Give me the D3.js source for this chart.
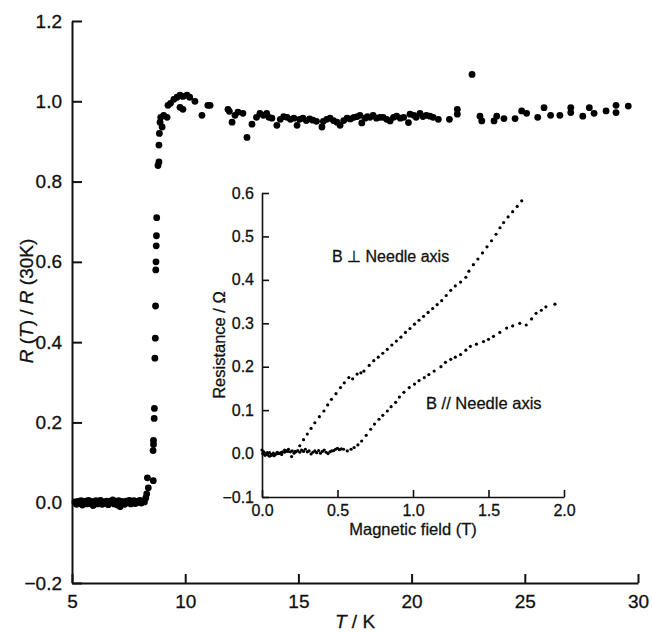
<!DOCTYPE html>
<html>
<head>
<meta charset="utf-8">
<script src="https://cdn.jsdelivr.net/npm/d3@7"></script>
<style>
body { margin: 0; background: #fff; }
text { font-family: "Liberation Sans", Arial, sans-serif; fill: #111; stroke: #111; stroke-width: 0.3px; }
</style>
</head>
<body>
<script>
// main plot: R(T)/R(30K) against T
var mainData = [
    [5.13, 0.002], [5.2, -0.004], [5.26, 0.003], [5.33, -0.002], [5.4, 0.005],
    [5.46, -0.006], [5.53, 0.001], [5.6, 0.004], [5.66, -0.003], [5.73, 0.006],
    [5.8, -0.002], [5.86, 0.003], [5.93, -0.007], [6.0, 0.002], [6.06, 0.005],
    [6.13, -0.003], [6.2, 0.001], [6.26, 0.006], [6.33, -0.004], [6.4, 0.002],
    [6.46, -0.001], [6.53, 0.004], [6.6, -0.005], [6.66, 0.003], [6.73, 0.0],
    [6.8, 0.007], [6.86, -0.003], [6.93, 0.002], [7.0, -0.006], [7.06, 0.005],
    [7.13, -0.01], [7.2, 0.003], [7.26, 0.001], [7.33, -0.004], [7.4, 0.004],
    [7.46, 0.0], [7.53, 0.006], [7.6, -0.003], [7.66, 0.002], [7.73, 0.005],
    [7.8, -0.002], [7.86, 0.003], [7.93, 0.001], [8.0, 0.006], [8.06, -0.001],
    [8.13, 0.004], [8.2, 0.002], [8.26, 0.012], [8.3, 0.022],
    [8.33, 0.062], [8.37, 0.037], [8.59, 0.055], [8.58, 0.13], [8.6, 0.145],
    [8.6, 0.155], [8.63, 0.21], [8.64, 0.235], [8.66, 0.36], [8.68, 0.41],
    [8.69, 0.49], [8.7, 0.58], [8.71, 0.6], [8.72, 0.64], [8.73, 0.665],
    [8.74, 0.71], [8.8, 0.84], [8.84, 0.849], [8.84, 0.891], [8.86, 0.92],
    [8.89, 0.948], [8.92, 0.96], [8.98, 0.936], [9.05, 0.965], [9.2, 0.96],
    [9.24, 0.99], [9.35, 0.995], [9.5, 1.005], [9.64, 1.01], [9.77, 1.015],
    [9.9, 1.012], [10.08, 1.015], [10.2, 1.01], [10.43, 1.0], [9.77, 0.985],
    [9.9, 0.98], [10.74, 0.965], [11.0, 0.99], [11.1, 0.99], [11.89, 0.98],
    [11.95, 0.975], [12.07, 0.948], [12.2, 0.965], [12.33, 0.973], [12.55, 0.97],
    [12.73, 0.91], [12.95, 0.943], [13.15, 0.96], [13.3, 0.97], [13.45, 0.965],
    [13.6, 0.97], [13.7, 0.96], [13.83, 0.958], [14.05, 0.94], [14.2, 0.955],
    [14.35, 0.962], [14.5, 0.96], [14.65, 0.955], [14.8, 0.958], [14.94, 0.94],
    [15.05, 0.955], [15.2, 0.958], [15.35, 0.952], [15.5, 0.956], [15.64, 0.953],
    [15.8, 0.95], [16.04, 0.936], [16.1, 0.95], [16.25, 0.955], [16.4, 0.958],
    [16.55, 0.952], [16.7, 0.948], [16.84, 0.94], [17.0, 0.952], [17.15, 0.958],
    [17.3, 0.956], [17.45, 0.96], [17.6, 0.962], [17.72, 0.965], [17.8, 0.946],
    [17.95, 0.958], [18.05, 0.962], [18.16, 0.96], [18.3, 0.965], [18.45, 0.958],
    [18.6, 0.96], [18.74, 0.96], [18.9, 0.955], [19.05, 0.951], [19.2, 0.96],
    [19.34, 0.963], [19.5, 0.958], [19.65, 0.96], [19.86, 0.947], [19.93, 0.968],
    [20.1, 0.965], [20.2, 0.96], [20.37, 0.97], [20.5, 0.962], [20.65, 0.965],
    [20.81, 0.963], [20.95, 0.96], [21.18, 0.955], [21.67, 0.955], [22.02, 0.968],
    [22.02, 0.98], [22.67, 1.067], [23.02, 0.963], [23.1, 0.951], [23.64, 0.951],
    [23.76, 0.963], [24.08, 0.957], [24.57, 0.957], [24.86, 0.976], [25.08, 0.97],
    [25.57, 0.96], [25.85, 0.984], [26.14, 0.965], [26.55, 0.965], [27.03, 0.984],
    [27.03, 0.972], [27.56, 0.963], [27.85, 0.984], [28.06, 0.97], [28.59, 0.976],
    [29.03, 0.99], [29.03, 0.972], [29.57, 0.988]
];

// inset: resistance (ohm) against magnetic field (T)
var perpData = [
    [0.005, 0.0], [0.02, -0.004], [0.035, 0.002], [0.05, -0.006], [0.065, -0.002],
    [0.08, -0.005], [0.095, -0.001], [0.11, 0.001], [0.13, -0.002], [0.15, 0.003],
    [0.17, 0.005], [0.196, -0.007], [0.22, 0.005], [0.25, 0.018], [0.275, 0.032],
    [0.3, 0.045], [0.325, 0.058], [0.35, 0.071], [0.38, 0.085], [0.41, 0.098],
    [0.435, 0.112], [0.46, 0.125], [0.49, 0.138], [0.52, 0.152], [0.545, 0.163],
    [0.575, 0.175], [0.6, 0.172], [0.63, 0.183], [0.655, 0.186], [0.675, 0.19],
    [0.71, 0.203], [0.74, 0.214], [0.77, 0.222], [0.8, 0.231], [0.83, 0.24],
    [0.86, 0.25], [0.89, 0.259], [0.92, 0.268], [0.95, 0.279], [0.98, 0.288],
    [1.01, 0.298], [1.04, 0.307], [1.07, 0.316], [1.1, 0.325], [1.13, 0.334],
    [1.16, 0.343], [1.19, 0.352], [1.22, 0.364], [1.25, 0.376], [1.28, 0.386],
    [1.315, 0.395], [1.35, 0.406], [1.37, 0.42], [1.4, 0.435], [1.43, 0.448],
    [1.46, 0.462], [1.49, 0.476], [1.52, 0.49], [1.55, 0.505], [1.576, 0.52],
    [1.6, 0.532], [1.63, 0.545], [1.66, 0.557], [1.69, 0.569], [1.72, 0.582]
];

var parData = [
    [0.0, 0.008], [0.012, 0.004], [0.025, 0.0], [0.037, -0.003], [0.05, 0.002],
    [0.062, -0.004], [0.075, 0.001], [0.087, -0.002], [0.1, 0.003], [0.112, 0.0],
    [0.125, 0.002], [0.137, 0.004], [0.15, 0.008], [0.162, 0.006], [0.175, 0.01],
    [0.187, 0.004], [0.2, 0.006], [0.212, 0.001], [0.225, 0.004], [0.237, 0.007],
    [0.25, 0.003], [0.262, 0.008], [0.275, 0.005], [0.287, 0.01], [0.3, 0.004],
    [0.312, 0.006], [0.325, -0.001], [0.337, 0.003], [0.35, 0.006], [0.362, 0.002],
    [0.375, 0.007], [0.387, 0.001], [0.4, 0.005], [0.412, 0.008], [0.425, 0.003],
    [0.437, 0.0], [0.45, 0.004], [0.462, 0.006], [0.475, 0.007], [0.487, 0.01],
    [0.5, 0.012], [0.512, 0.009], [0.525, 0.011], [0.54, 0.01], [0.565, 0.006],
    [0.59, 0.01], [0.61, 0.014], [0.635, 0.02], [0.66, 0.029], [0.69, 0.042],
    [0.72, 0.056], [0.745, 0.068], [0.775, 0.079], [0.8, 0.088], [0.83, 0.098],
    [0.855, 0.108], [0.885, 0.118], [0.91, 0.13], [0.94, 0.141], [0.975, 0.152],
    [1.01, 0.16], [1.04, 0.168], [1.075, 0.175], [1.105, 0.182], [1.14, 0.19],
    [1.185, 0.2], [1.215, 0.21], [1.25, 0.217], [1.28, 0.222], [1.315, 0.228],
    [1.35, 0.238], [1.38, 0.247], [1.42, 0.252], [1.467, 0.258], [1.5, 0.263],
    [1.533, 0.27], [1.575, 0.279], [1.62, 0.289], [1.66, 0.294], [1.707, 0.3],
    [1.75, 0.296], [1.785, 0.31], [1.815, 0.323], [1.85, 0.33], [1.88, 0.338],
    [1.94, 0.344]
];

var xTicks = [5, 10, 15, 20, 25, 30];
var yTicks = [-0.2, 0.0, 0.2, 0.4, 0.6, 0.8, 1.0, 1.2];
var insetXTicks = [0.0, 0.5, 1.0, 1.5, 2.0];
var insetYTicks = [-0.1, 0.0, 0.1, 0.2, 0.3, 0.4, 0.5, 0.6];

var width = 652,
    height = 632;

var svg = d3.select("body").append("svg")
    .attr("width", width)
    .attr("height", height);

// main scales
var x = d3.scaleLinear().domain([5, 30]).range([72, 638]);
var y = d3.scaleLinear().domain([-0.2, 1.2]).range([583, 21]);

// inset scales
var xi = d3.scaleLinear().domain([0, 2]).range([262, 564]);
var yi = d3.scaleLinear().domain([-0.1, 0.6]).range([497, 193]);

// ticks point inwards, no outer ticks
var xAxis = d3.axisBottom(x).tickValues(xTicks)
    .tickSizeInner(-9).tickSizeOuter(0).tickPadding(12)
    .tickFormat(d3.format("d"));
var yAxis = d3.axisLeft(y).tickValues(yTicks)
    .tickSizeInner(-10).tickSizeOuter(0).tickPadding(10)
    .tickFormat(d3.format(".1f"));

var gx = svg.append("g")
    .attr("transform", "translate(0," + y(-0.2) + ")")
    .call(xAxis);
var gy = svg.append("g")
    .attr("transform", "translate(" + x(5) + ",0)")
    .call(yAxis);

[gx, gy].forEach(function(g) {
    g.select(".domain").attr("stroke", "#111").attr("stroke-width", 2);
    g.selectAll(".tick line").attr("stroke", "#111").attr("stroke-width", 2);
    g.selectAll(".tick text")
        .attr("font-family", "'Liberation Sans', Arial, sans-serif")
        .attr("font-size", 19)
        .attr("fill", "#111");
});

// main data points
svg.append("g").selectAll("circle")
    .data(mainData)
    .enter()
    .append("circle")
    .attr("cx", function(d) { return x(d[0]); })
    .attr("cy", function(d) { return y(d[1]); })
    .attr("r", 3.4)
    .attr("fill", "#000");

// axis titles
var xt = svg.append("text")
    .attr("x", (x(5) + x(30)) / 2)
    .attr("y", 628)
    .attr("text-anchor", "middle")
    .attr("font-size", 19);
xt.append("tspan").attr("font-style", "italic").text("T");
xt.append("tspan").text(" / K");

var yt = svg.append("text")
    .attr("transform", "translate(33,301) rotate(-90)")
    .attr("text-anchor", "middle")
    .attr("font-size", 19);
yt.append("tspan").attr("font-style", "italic").text("R");
yt.append("tspan").text(" (");
yt.append("tspan").attr("font-style", "italic").text("T");
yt.append("tspan").text(") / ");
yt.append("tspan").attr("font-style", "italic").text("R");
yt.append("tspan").text(" (30K)");

// inset axes
var xiAxis = d3.axisBottom(xi).tickValues(insetXTicks)
    .tickSizeInner(-7).tickSizeOuter(0).tickPadding(8)
    .tickFormat(d3.format(".1f"));
var yiAxis = d3.axisLeft(yi).tickValues(insetYTicks)
    .tickSizeInner(-7).tickSizeOuter(0).tickPadding(8)
    .tickFormat(d3.format(".1f"));

var gxi = svg.append("g")
    .attr("transform", "translate(0," + yi(-0.1) + ")")
    .call(xiAxis);
var gyi = svg.append("g")
    .attr("transform", "translate(" + xi(0) + ",0)")
    .call(yiAxis);

[gxi, gyi].forEach(function(g) {
    g.select(".domain").attr("stroke", "#111").attr("stroke-width", 1.6);
    g.selectAll(".tick line").attr("stroke", "#111").attr("stroke-width", 1.6);
    g.selectAll(".tick text")
        .attr("font-family", "'Liberation Sans', Arial, sans-serif")
        .attr("font-size", 16)
        .attr("fill", "#111");
});

// inset data
[perpData, parData].forEach(function(series) {
    svg.append("g").selectAll("circle")
        .data(series)
        .enter()
        .append("circle")
        .attr("cx", function(d) { return xi(d[0]); })
        .attr("cy", function(d) { return yi(d[1]); })
        .attr("r", 1.6)
        .attr("fill", "#000");
});

// inset titles and annotations
svg.append("text")
    .attr("x", xi(1.0))
    .attr("y", 535)
    .attr("text-anchor", "middle")
    .attr("font-size", 16.5)
    .text("Magnetic field (T)");

svg.append("text")
    .attr("transform", "translate(225," + yi(0.25) + ") rotate(-90)")
    .attr("text-anchor", "middle")
    .attr("font-size", 16.5)
    .text("Resistance / \u03a9");

svg.append("text")
    .attr("x", 332)
    .attr("y", 262)
    .attr("font-size", 16)
    .text("B \u22a5 Needle axis");

svg.append("text")
    .attr("x", 426)
    .attr("y", 409)
    .attr("font-size", 16.5)
    .text("B // Needle axis");
</script>
</body>
</html>
